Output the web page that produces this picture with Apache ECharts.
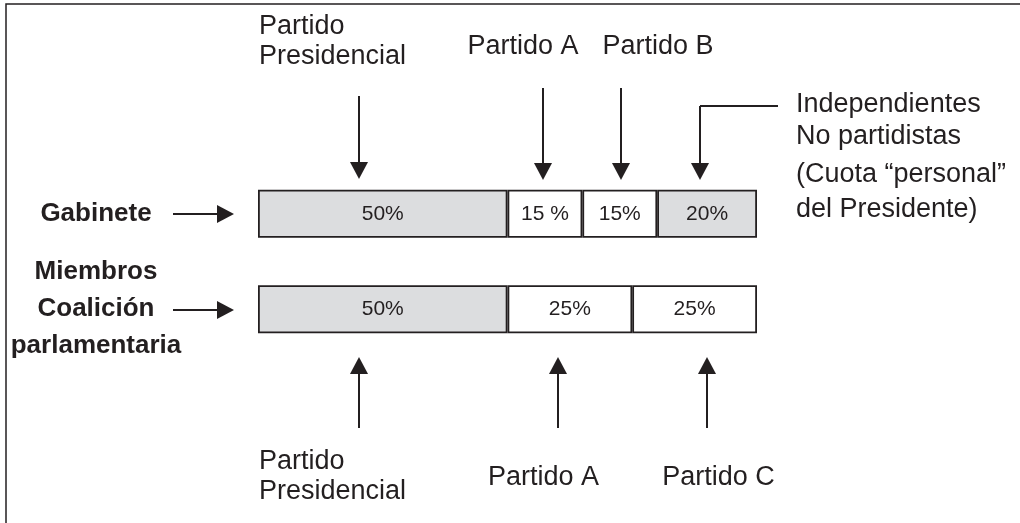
<!DOCTYPE html>
<html>
<head>
<meta charset="utf-8">
<title>Gabinete y coalición</title>
<script src="https://cdn.jsdelivr.net/npm/echarts@6.0.0/dist/echarts.min.js"></script>
<style>
  html, body { margin: 0; padding: 0; background: #fff; }
  #main { width: 1020px; height: 523px; }
</style>
</head>
<body>
<div id="main"></div>
<script>
// categories (top to bottom)
const categories = ['Gabinete', 'Miembros\nCoalición\nparlamentaria'];

// share of each group, in %
const presidencial = [50, 50];
const partidoA = [15, 25];
const partidoB = [15, null];
const partidoC = [null, 25];
const independientes = [20, null];

// text written inside each segment
const presidencialLabels = ['50%', '50%'];
const partidoALabels = ['15 %', '25%'];
const partidoBLabels = ['15%', ''];
const partidoCLabels = ['', '25%'];
const independientesLabels = ['20%', ''];

const ink = '#231f20';
const grey = '#dcdddf';
const font = 'Liberation Sans, Arial, Helvetica, sans-serif';

function segment(name, values, labels, color) {
  return {
    name: name,
    type: 'bar',
    stack: 'total',
    barWidth: 48,
    data: values,
    itemStyle: { color: color, borderColor: ink, borderWidth: 1.8 },
    label: {
      show: true,
      position: 'inside',
      color: ink,
      fontSize: 21,
      fontFamily: font,
      formatter: function (p) { return labels[p.dataIndex]; }
    },
    silent: true
  };
}

function line(x1, y1, x2, y2) {
  return { type: 'line', shape: { x1: x1, y1: y1, x2: x2, y2: y2 }, style: { stroke: ink, lineWidth: 2 }, silent: true };
}
function head(points) {
  return { type: 'polygon', shape: { points: points }, style: { fill: ink }, silent: true };
}
function arrowDown(x, y0, tip) {
  return [line(x, y0, x, tip - 14), head([[x - 9, tip - 17], [x + 9, tip - 17], [x, tip]])];
}
function arrowUp(x, y0, tip) {
  return [line(x, y0, x, tip + 14), head([[x - 9, tip + 17], [x + 9, tip + 17], [x, tip]])];
}
function arrowRight(x0, tip, y) {
  return [line(x0, y, tip - 14, y), head([[tip - 17, y - 9], [tip - 17, y + 9], [tip, y]])];
}
function text(str, x, y, align, vAlign, lineHeight) {
  return {
    type: 'text', x: x, y: y, silent: true,
    style: {
      text: str, fill: ink, fontSize: 27, fontFamily: font,
      align: align, verticalAlign: vAlign, lineHeight: lineHeight || 30
    }
  };
}

let graphics = [
  // frame
  { type: 'rect', shape: { x: 6, y: 4, width: 1100, height: 600 }, style: { fill: 'none', stroke: ink, lineWidth: 1.5 }, silent: true },

  text('Partido\nPresidencial', 259, 11.5, 'left', 'top', 30),
  text('Partido A', 523, 46.5, 'center', 'middle'),
  text('Partido B', 658, 46.5, 'center', 'middle'),
  text('Independientes\nNo partidistas', 796, 88, 'left', 'top', 32.5),
  text('(Cuota “personal”\ndel Presidente)', 796, 157.5, 'left', 'top', 35),

  text('Partido\nPresidencial', 259, 447, 'left', 'top', 30),
  text('Partido A', 543.5, 478, 'center', 'middle'),
  text('Partido C', 718.5, 478, 'center', 'middle'),

  line(700, 106, 778, 106)
];
graphics = graphics
  .concat(arrowDown(359, 96, 179))
  .concat(arrowDown(543, 88, 180))
  .concat(arrowDown(621, 88, 180))
  .concat(arrowDown(700, 106, 180))
  .concat(arrowUp(359, 428, 357))
  .concat(arrowUp(558, 428, 357))
  .concat(arrowUp(707, 428, 357))
  .concat(arrowRight(173, 234, 214))
  .concat(arrowRight(173, 234, 310));

let option = {
  animation: false,
  grid: { left: 258, right: 263, top: 166, bottom: 166, containLabel: false, outerBoundsMode: 'none' },
  xAxis: { type: 'value', min: 0, max: 100, show: false },
  yAxis: {
    type: 'category',
    inverse: true,
    data: categories,
    axisLine: { show: false },
    axisTick: { show: false },
    splitLine: { show: false },
    axisLabel: {
      margin: 162,
      align: 'center',
      color: ink,
      fontSize: 26,
      fontWeight: 'bold',
      fontFamily: font,
      lineHeight: 37
    }
  },
  series: [
    segment('Partido Presidencial', presidencial, presidencialLabels, grey),
    segment('Partido A', partidoA, partidoALabels, '#ffffff'),
    segment('Partido B', partidoB, partidoBLabels, '#ffffff'),
    segment('Partido C', partidoC, partidoCLabels, '#ffffff'),
    segment('Independientes', independientes, independientesLabels, grey)
  ],
  graphic: graphics
};

let myChart = echarts.init(document.getElementById('main'), null, { renderer: 'canvas' });
myChart.setOption(option);
</script>
</body>
</html>
